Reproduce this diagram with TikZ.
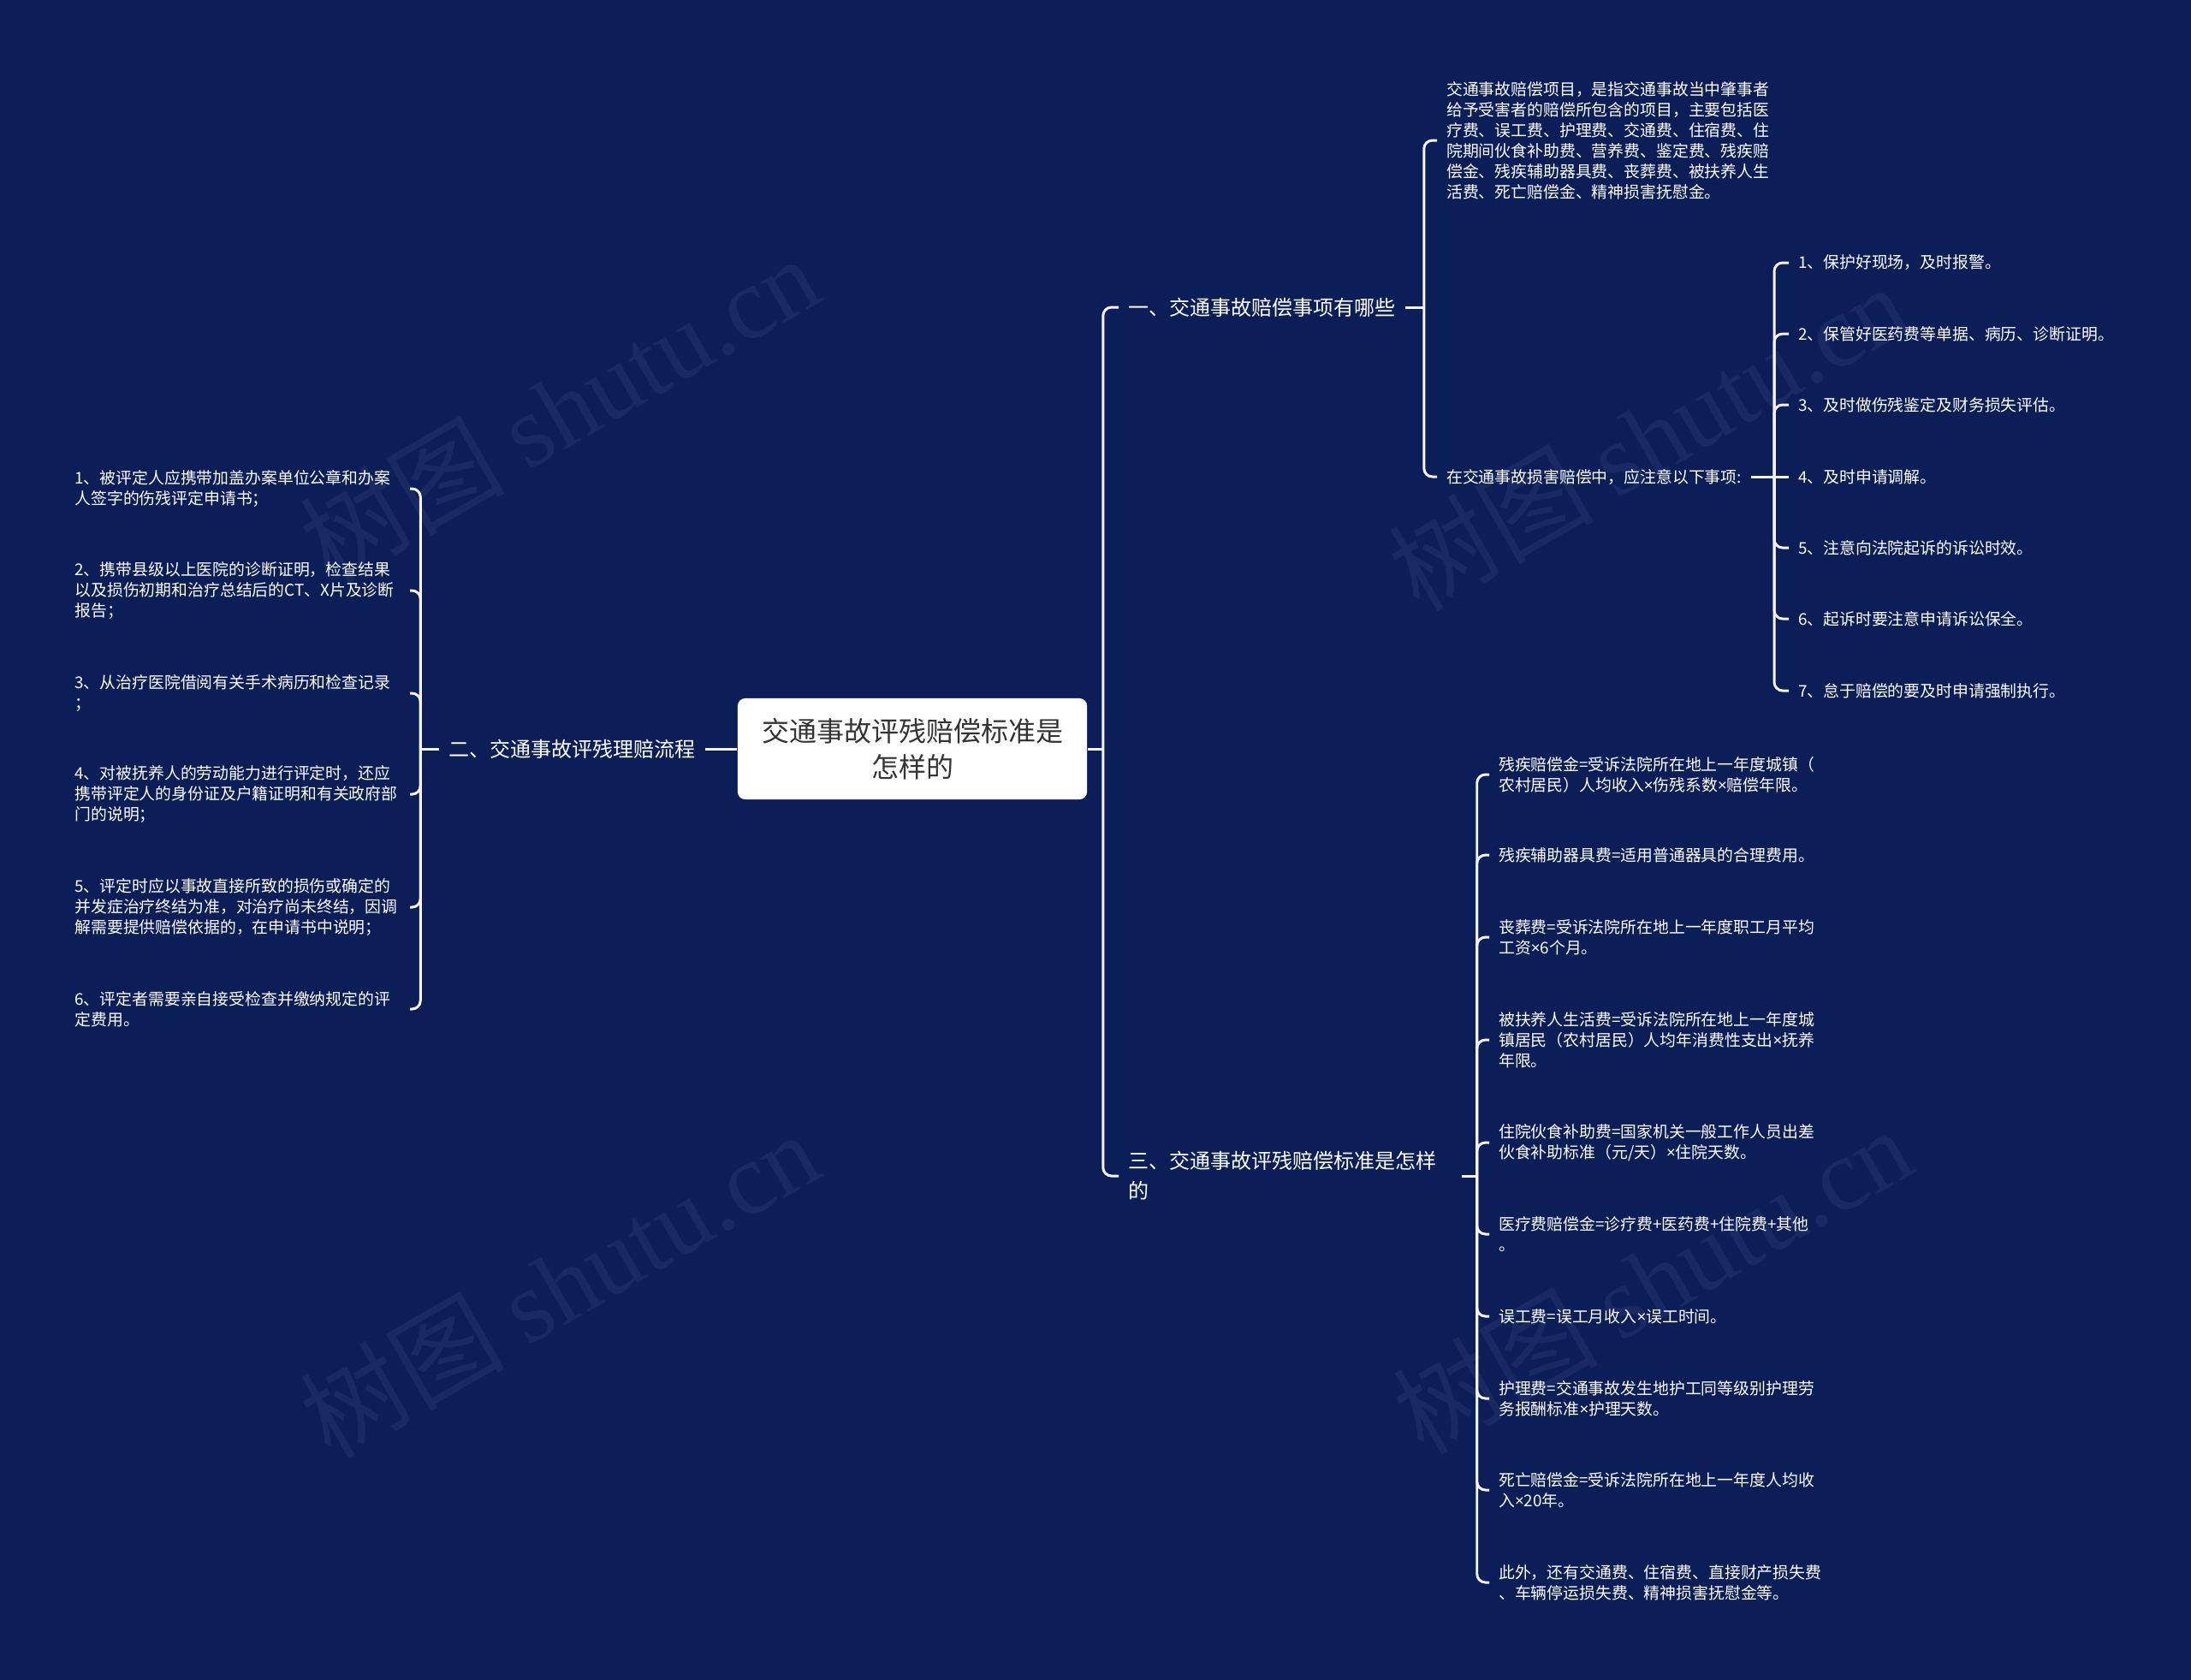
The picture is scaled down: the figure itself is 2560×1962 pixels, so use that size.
\documentclass[tikz,border=0pt]{standalone}
\usepackage{fontspec}
\setmainfont{Noto Sans CJK SC}
\newfontfamily\marklatin{Liberation Serif}
\newfontfamily\leaflatin{Noto Sans}
\newcommand{\mtimes}{{\leaflatin ×}}
\usepackage{xcolor}
\usepackage{tikz}
\definecolor{mapbg}{HTML}{0C1E58}
\definecolor{mapline}{HTML}{F4F4F4}
\definecolor{mapink}{HTML}{333333}
\definecolor{mapmark}{HTML}{182963}

\begin{document}
\begin{tikzpicture}[x=0.01cm, y=-0.01cm,
  mroot/.style={fill=white, rounded corners=2.5pt, text=mapink, font=\fontsize{9.1pt}{11.95pt}\selectfont, align=center, minimum width=4.08cm, minimum height=1.18cm, inner sep=0pt},
  mbranch/.style={text=white, font=\fontsize{6.83pt}{9.96pt}\selectfont, align=left, inner xsep=3pt, inner ysep=2pt},
  mleaf/.style={text=white, font=\fontsize{5.36pt}{6.83pt}\selectfont, align=left, inner xsep=3pt, inner ysep=2pt},
  mleafl/.style={mleaf, text width=3.8cm, anchor=east},
  mlink/.style={draw=mapline, line width=0.85pt, rounded corners=2.8pt},
  mmark/.style={text=mapmark, font=\fontsize{34pt}{34pt}\selectfont, rotate=30, inner sep=0pt},
]
\useasboundingbox (0,0) rectangle (2560,1962);
\fill[mapbg] (-10,-10) rectangle (2570,1972);

\node[mmark] (wm1) at (653,477)  {树图 {\marklatin shutu.cn}};
\node[mmark] (wm2) at (1925,510) {树图 {\marklatin shutu.cn}};
\node[mmark] (wm3) at (653,1500) {树图 {\marklatin shutu.cn}};
\node[mmark] (wm4) at (1930,1495) {树图 {\marklatin shutu.cn}};

\node[mroot] (root) at (1066,875) {交通事故评残赔偿标准是\\怎样的};

\node[mbranch, anchor=east] (b2) at (824,875) {二、交通事故评残理赔流程};
\node[mbranch, anchor=west] (b1) at (1307,359) {一、交通事故赔偿事项有哪些};
\node[mbranch, anchor=west, text width=3.78cm] (b3) at (1307,1374) {三、交通事故评残赔偿标准是怎样\\的};

\node[mleafl] (l1) at (479,571)  {1、被评定人应携带加盖办案单位公章和办案\\人签字的伤残评定申请书；};
\node[mleafl] (l2) at (479,690)  {2、携带县级以上医院的诊断证明，检查结果\\以及损伤初期和治疗总结后的CT、X片及诊断\\报告；};
\node[mleafl] (l3) at (479,810)  {3、从治疗医院借阅有关手术病历和检查记录\\；};
\node[mleafl] (l4) at (479,928)  {4、对被抚养人的劳动能力进行评定时，还应\\携带评定人的身份证及户籍证明和有关政府部\\门的说明；};
\node[mleafl] (l5) at (479,1060) {5、评定时应以事故直接所致的损伤或确定的\\并发症治疗终结为准，对治疗尚未终结，因调\\解需要提供赔偿依据的，在申请书中说明；};
\node[mleafl] (l6) at (479,1179) {6、评定者需要亲自接受检查并缴纳规定的评\\定费用。};

\node[mleaf, anchor=west] (p1) at (1679,164) {交通事故赔偿项目，是指交通事故当中肇事者\\给予受害者的赔偿所包含的项目，主要包括医\\疗费、误工费、护理费、交通费、住宿费、住\\院期间伙食补助费、营养费、鉴定费、残疾赔\\偿金、残疾辅助器具费、丧葬费、被扶养人生\\活费、死亡赔偿金、精神损害抚慰金。};
\node[mleaf, anchor=west] (n1) at (1679,557) {在交通事故损害赔偿中，应注意以下事项:};

\node[mleaf, anchor=west] (t1) at (2090,307) {1、保护好现场，及时报警。};
\node[mleaf, anchor=west] (t2) at (2090,390) {2、保管好医药费等单据、病历、诊断证明。};
\node[mleaf, anchor=west] (t3) at (2090,473) {3、及时做伤残鉴定及财务损失评估。};
\node[mleaf, anchor=west] (t4) at (2090,557) {4、及时申请调解。};
\node[mleaf, anchor=west] (t5) at (2090,640) {5、注意向法院起诉的诉讼时效。};
\node[mleaf, anchor=west] (t6) at (2090,723) {6、起诉时要注意申请诉讼保全。};
\node[mleaf, anchor=west] (t7) at (2090,807) {7、怠于赔偿的要及时申请强制执行。};

\node[mleaf, anchor=west] (c1)  at (1740,905)  {残疾赔偿金=受诉法院所在地上一年度城镇（\\农村居民）人均收入\mtimes 伤残系数\mtimes 赔偿年限。};
\node[mleaf, anchor=west] (c2)  at (1740,999)  {残疾辅助器具费=适用普通器具的合理费用。};
\node[mleaf, anchor=west] (c3)  at (1740,1095) {丧葬费=受诉法院所在地上一年度职工月平均\\工资\mtimes 6个月。};
\node[mleaf, anchor=west] (c4)  at (1740,1215) {被扶养人生活费=受诉法院所在地上一年度城\\镇居民（农村居民）人均年消费性支出\mtimes 抚养\\年限。};
\node[mleaf, anchor=west] (c5)  at (1740,1335) {住院伙食补助费=国家机关一般工作人员出差\\伙食补助标准（元/天）\mtimes 住院天数。};
\node[mleaf, anchor=west] (c6)  at (1740,1442) {医疗费赔偿金=诊疗费+医药费+住院费+其他\\。};
\node[mleaf, anchor=west] (c7)  at (1740,1538) {误工费=误工月收入\mtimes 误工时间。};
\node[mleaf, anchor=west] (c8)  at (1740,1634) {护理费=交通事故发生地护工同等级别护理劳\\务报酬标准\mtimes 护理天数。};
\node[mleaf, anchor=west] (c9)  at (1740,1741) {死亡赔偿金=受诉法院所在地上一年度人均收\\入\mtimes 20年。};
\node[mleaf, anchor=west] (c10) at (1740,1849) {此外，还有交通费、住宿费、直接财产损失费\\、车辆停运损失费、精神损害抚慰金等。};

\draw[mlink] (root.west) -- (b2.east);
\draw[mlink] (root.east) -- ++(18,0) coordinate (jr);
\draw[mlink] (jr) |- (b1.west);
\draw[mlink] (jr) |- (b3.west);

\draw[mlink] (b2.west) -- ++(-22,0) coordinate (jl);
\draw[mlink] (jl) |- (l1.east);
\draw[mlink] (jl) |- (l2.east);
\draw[mlink] (jl) |- (l3.east);
\draw[mlink] (jl) |- (l4.east);
\draw[mlink] (jl) |- (l5.east);
\draw[mlink] (jl) |- (l6.east);

\draw[mlink] (b1.east) -- ++(22,0) coordinate (j1);
\draw[mlink] (j1) |- (p1.west);
\draw[mlink] (j1) |- (n1.west);

\draw[mlink] (n1.east) -- ++(27,0) coordinate (jn);
\draw[mlink] (jn) |- (t1.west);
\draw[mlink] (jn) |- (t2.west);
\draw[mlink] (jn) |- (t3.west);
\draw[mlink] (jn) -- (t4.west);
\draw[mlink] (jn) |- (t5.west);
\draw[mlink] (jn) |- (t6.west);
\draw[mlink] (jn) |- (t7.west);

\draw[mlink] (b3.east) -- ++(18,0) coordinate (j3);
\draw[mlink] (j3) |- (c1.west);
\draw[mlink] (j3) |- (c2.west);
\draw[mlink] (j3) |- (c3.west);
\draw[mlink] (j3) |- (c4.west);
\draw[mlink] (j3) |- (c5.west);
\draw[mlink] (j3) |- (c6.west);
\draw[mlink] (j3) |- (c7.west);
\draw[mlink] (j3) |- (c8.west);
\draw[mlink] (j3) |- (c9.west);
\draw[mlink] (j3) |- (c10.west);
\end{tikzpicture}
\end{document}
